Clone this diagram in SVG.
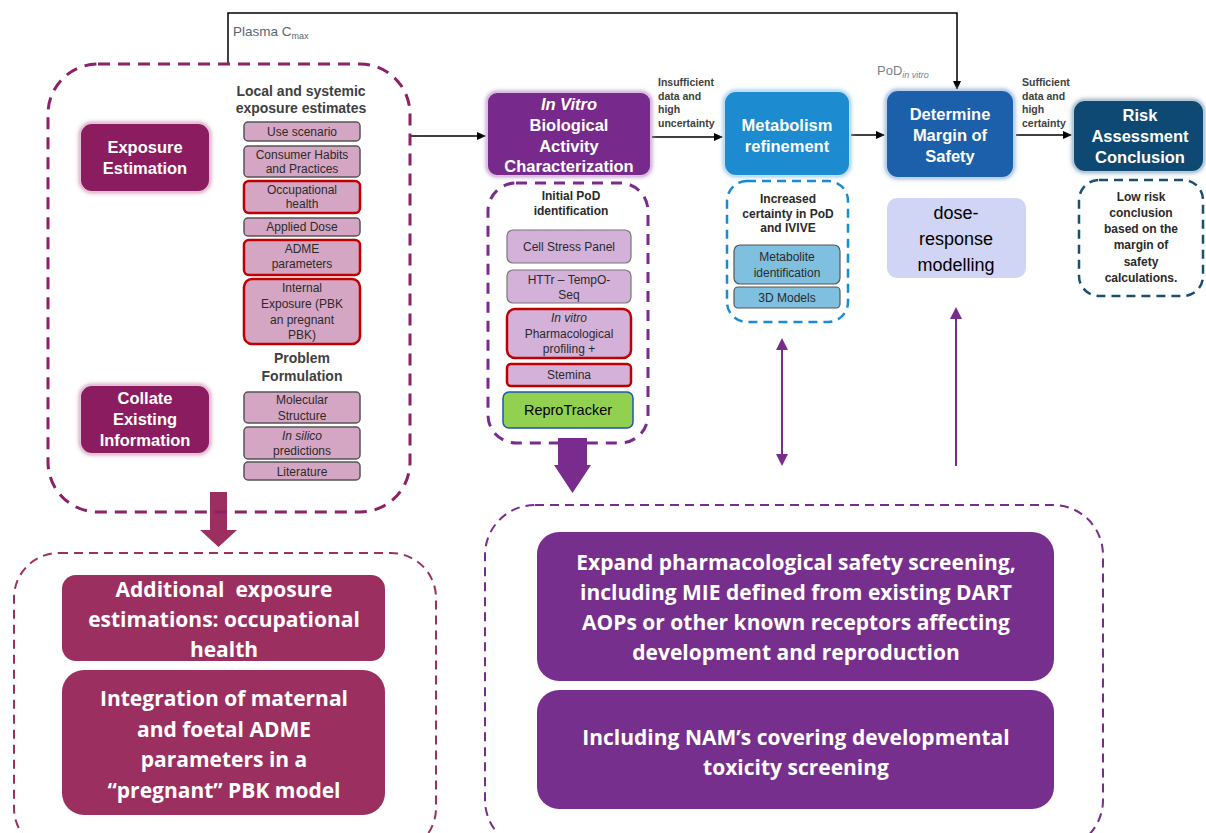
<svg xmlns="http://www.w3.org/2000/svg" width="1206" height="833" viewBox="0 0 1206 833">
<defs>
<filter id="glow" x="-20%" y="-20%" width="140%" height="140%">
<feGaussianBlur in="SourceGraphic" stdDeviation="2.5" result="b"/>
<feMerge><feMergeNode in="b"/><feMergeNode in="SourceGraphic"/></feMerge>
</filter>
<marker id="ah" markerWidth="10" markerHeight="10" refX="8" refY="5" orient="auto" markerUnits="userSpaceOnUse">
<path d="M0,1 L9,5 L0,9 Z" fill="#000"/>
</marker>
<marker id="ahp" markerWidth="14" markerHeight="14" refX="10" refY="7" orient="auto-start-reverse" markerUnits="userSpaceOnUse">
<path d="M0,1 L12,7 L0,13 Z" fill="#7a2c8e"/>
</marker>
</defs>
<style>
text{font-family:"Liberation Sans",Arial,sans-serif}
.big{font-size:16.5px;font-weight:bold;fill:#fff;text-anchor:middle}
.hdr{font-size:14px;font-weight:bold;fill:#404040;text-anchor:middle}
.sm{font-size:12px;fill:#2a2a2a;text-anchor:middle}
.lbl{font-size:10.5px;font-weight:bold;fill:#404040}
.pk{fill:#d5a6c4;stroke:#555;stroke-width:1.5}
.pkr{fill:#d5a6c4;stroke:#c00000;stroke-width:2.5}
.lv{fill:#d4b1d9;stroke:#777;stroke-width:1.2}
.lvr{fill:#d4b1d9;stroke:#c00000;stroke-width:2.5}
.bl{fill:#7fbfe0;stroke:#555;stroke-width:1.2}
.cal{font-family:"Open Sans","Liberation Sans",sans-serif;font-weight:bold;fill:#fff;text-anchor:middle;font-size:21px}
.conn{fill:none;stroke:#000;stroke-width:1.5}
.gl{filter:url(#glow)}
</style>

<g id="connectors">
<polyline class="conn" points="228,63 228,13 957,13 957,89" marker-end="url(#ah)"/>
<line class="conn" x1="411" y1="136" x2="485" y2="136" marker-end="url(#ah)"/>
<line class="conn" x1="651" y1="137" x2="722" y2="137" marker-end="url(#ah)"/>
<line class="conn" x1="851" y1="135" x2="884" y2="135" marker-end="url(#ah)"/>
<line class="conn" x1="1016" y1="135" x2="1071" y2="135" marker-end="url(#ah)"/>
<line x1="782" y1="340" x2="782" y2="464" stroke="#7a2c8e" stroke-width="2" marker-start="url(#ahp)" marker-end="url(#ahp)"/>
<line x1="956" y1="466" x2="956" y2="309" stroke="#7a2c8e" stroke-width="2" marker-end="url(#ahp)"/>
<path d="M210,492 H227 V530 H237 L218.5,547 L200,530 H210 Z" fill="#9b3060"/>
<path d="M558,438 H587 V465 H591 L572.5,493 L554,465 H558 Z" fill="#7a2c8e"/>
<text x="233" y="36" font-size="13.5" fill="#5a6470">Plasma C<tspan font-size="9" dy="3">max</tspan></text>
<text x="877" y="75" font-size="13" fill="#7a7f86">PoD<tspan font-size="9" font-style="italic" dy="3">in vitro</tspan></text>
<text class="lbl" x="658" y="86">Insufficient</text>
<text class="lbl" x="658" y="99.5">data and</text>
<text class="lbl" x="658" y="113">high</text>
<text class="lbl" x="658" y="126.5">uncertainty</text>
<text class="lbl" x="1022" y="86">Sufficient</text>
<text class="lbl" x="1022" y="99.5">data and</text>
<text class="lbl" x="1022" y="113">high</text>
<text class="lbl" x="1022" y="126.5">certainty</text>
</g>

<g id="exposure-group">
<rect x="48" y="64" width="362" height="448" rx="50" fill="none" stroke="#8b2166" stroke-width="3" stroke-dasharray="12 8"/>
<rect class="gl" x="80" y="123" width="130" height="69" rx="12" fill="#8b1a5e" stroke="#e6c3d7" stroke-width="2"/>
<text class="big" x="145" y="153">Exposure</text>
<text class="big" x="145" y="174">Estimation</text>
<rect class="gl" x="80" y="385" width="130" height="69" rx="12" fill="#8b1a5e" stroke="#e6c3d7" stroke-width="2"/>
<text class="big" x="145" y="404">Collate</text>
<text class="big" x="145" y="425">Existing</text>
<text class="big" x="145" y="446">Information</text>
<text class="hdr" x="301" y="96">Local and systemic</text>
<text class="hdr" x="301" y="113">exposure estimates</text>
<rect class="pk" x="244" y="122" width="116" height="19" rx="4"/>
<text class="sm" x="302" y="136">Use scenario</text>
<rect class="pk" x="244" y="146" width="116" height="31" rx="4"/>
<text class="sm" x="302" y="159">Consumer Habits</text>
<text class="sm" x="302" y="173">and Practices</text>
<rect class="pkr" x="244" y="181" width="116" height="32" rx="5"/>
<text class="sm" x="302" y="194">Occupational</text>
<text class="sm" x="302" y="208">health</text>
<rect class="pk" x="244" y="218" width="116" height="18" rx="4"/>
<text class="sm" x="302" y="231">Applied Dose</text>
<rect class="pkr" x="244" y="240" width="116" height="35" rx="5"/>
<text class="sm" x="302" y="253">ADME</text>
<text class="sm" x="302" y="268">parameters</text>
<rect class="pkr" x="244" y="279" width="116" height="65" rx="8"/>
<text class="sm" x="302" y="292">Internal</text>
<text class="sm" x="302" y="308">Exposure (PBK</text>
<text class="sm" x="302" y="324">an pregnant</text>
<text class="sm" x="302" y="339">PBK)</text>
<text class="hdr" x="302" y="363">Problem</text>
<text class="hdr" x="302" y="381">Formulation</text>
<rect class="pk" x="244" y="392" width="116" height="31" rx="4"/>
<text class="sm" x="302" y="404">Molecular</text>
<text class="sm" x="302" y="420">Structure</text>
<rect class="pk" x="244" y="427" width="116" height="32" rx="4"/>
<text class="sm" x="302" y="440" font-style="italic">In silico</text>
<text class="sm" x="302" y="455">predictions</text>
<rect class="pk" x="244" y="462" width="116" height="18" rx="4"/>
<text class="sm" x="302" y="476">Literature</text>
</g>

<g id="invitro-group">
<rect class="gl" x="487" y="92" width="164" height="84" rx="10" fill="#772a8c" stroke="#d9bfe0" stroke-width="2"/>
<text class="big" x="569" y="110" font-style="italic">In Vitro</text>
<text class="big" x="569" y="131">Biological</text>
<text class="big" x="569" y="152">Activity</text>
<text class="big" x="569" y="172">Characterization</text>
<rect x="488" y="183" width="160" height="260" rx="28" fill="none" stroke="#7a2c8e" stroke-width="3" stroke-dasharray="11 8"/>
<text class="sm" x="571" y="200" font-weight="bold" fill="#595959" font-size="11">Initial PoD</text>
<text class="sm" x="571" y="215" font-weight="bold" fill="#595959" font-size="11">identification</text>
<rect class="lv" x="507" y="230" width="124" height="33" rx="6"/>
<text class="sm" x="569" y="251">Cell Stress Panel</text>
<rect class="lv" x="507" y="270" width="124" height="33" rx="6"/>
<text class="sm" x="569" y="284">HTTr – TempO-</text>
<text class="sm" x="569" y="299">Seq</text>
<rect class="lvr" x="507" y="309" width="124" height="49" rx="8"/>
<text class="sm" x="569" y="322" font-style="italic">In vitro</text>
<text class="sm" x="569" y="338">Pharmacological</text>
<text class="sm" x="569" y="353">profiling +</text>
<rect class="lvr" x="507" y="364" width="124" height="22" rx="4"/>
<text class="sm" x="569" y="379">Stemina</text>
<rect x="503" y="392" width="130" height="36" rx="6" fill="#92d050" stroke="#1f56b0" stroke-width="1.5"/>
<text x="568" y="415" font-family="Open Sans,Liberation Sans,sans-serif" font-size="14.5" fill="#000" text-anchor="middle">ReproTracker</text>
</g>

<g id="metabolism-group">
<rect class="gl" x="724" y="91" width="126" height="85" rx="12" fill="#1a8bd0" stroke="#bfe0f3" stroke-width="2"/>
<text class="big" x="787" y="131">Metabolism</text>
<text class="big" x="787" y="152">refinement</text>
<rect x="727" y="181" width="121" height="141" rx="20" fill="none" stroke="#1a8bd0" stroke-width="2.5" stroke-dasharray="9 6"/>
<text class="sm" x="788" y="203" font-weight="bold" fill="#595959" font-size="11">Increased</text>
<text class="sm" x="788" y="218" font-weight="bold" fill="#595959" font-size="11">certainty in PoD</text>
<text class="sm" x="788" y="232" font-weight="bold" fill="#595959" font-size="11">and IVIVE</text>
<rect class="bl" x="734" y="245" width="106" height="39" rx="6"/>
<text class="sm" x="787" y="261">Metabolite</text>
<text class="sm" x="787" y="277">identification</text>
<rect class="bl" x="734" y="287" width="106" height="21" rx="4"/>
<text class="sm" x="787" y="302">3D Models</text>
</g>

<g id="margin-group">
<rect class="gl" x="886" y="90" width="128" height="88" rx="12" fill="#1d5fab" stroke="#bcd2ec" stroke-width="2"/>
<text class="big" x="950" y="120">Determine</text>
<text class="big" x="950" y="141">Margin of</text>
<text class="big" x="950" y="162">Safety</text>
<rect x="887" y="198" width="139" height="80" rx="10" fill="#d0d4f5"/>
<text x="956" y="219" font-family="Open Sans,Liberation Sans,sans-serif" font-size="18" fill="#000" text-anchor="middle">dose-</text>
<text x="956" y="245" font-family="Open Sans,Liberation Sans,sans-serif" font-size="18" fill="#000" text-anchor="middle">response</text>
<text x="956" y="271" font-family="Open Sans,Liberation Sans,sans-serif" font-size="18" fill="#000" text-anchor="middle">modelling</text>
</g>

<g id="risk-group">
<rect class="gl" x="1073" y="100" width="131" height="72" rx="12" fill="#0c4a73" stroke="#b8cbd9" stroke-width="2"/>
<text class="big" x="1140" y="121">Risk</text>
<text class="big" x="1140" y="142">Assessment</text>
<text class="big" x="1140" y="163">Conclusion</text>
<rect x="1079" y="180" width="124" height="116" rx="20" fill="none" stroke="#1b4f72" stroke-width="2.5" stroke-dasharray="9 6"/>
<text class="sm" x="1141" y="201" font-weight="bold" fill="#595959" font-size="11.5">Low risk</text>
<text class="sm" x="1141" y="217" font-weight="bold" fill="#595959" font-size="11.5">conclusion</text>
<text class="sm" x="1141" y="233" font-weight="bold" fill="#595959" font-size="11.5">based on the</text>
<text class="sm" x="1141" y="249" font-weight="bold" fill="#595959" font-size="11.5">margin of</text>
<text class="sm" x="1141" y="266" font-weight="bold" fill="#595959" font-size="11.5">safety</text>
<text class="sm" x="1141" y="282" font-weight="bold" fill="#595959" font-size="11.5">calculations.</text>
</g>

<g id="exposure-additions">
<rect x="14" y="553" width="422" height="300" rx="45" fill="none" stroke="#9b3060" stroke-width="2" stroke-dasharray="9 6"/>
<rect x="62" y="575" width="323" height="86" rx="14" fill="#9b3060"/>
<text class="cal" x="224" y="597" style="white-space:pre">Additional  exposure</text>
<text class="cal" x="224" y="627">estimations: occupational</text>
<text class="cal" x="224" y="657">health</text>
<rect x="62" y="670" width="323" height="145" rx="22" fill="#9b3060"/>
<text class="cal" x="224" y="706">Integration of maternal</text>
<text class="cal" x="224" y="737">and foetal ADME</text>
<text class="cal" x="224" y="767">parameters in a</text>
<text class="cal" x="224" y="798">“pregnant” PBK model</text>
</g>

<g id="invitro-additions">
<rect x="485" y="505" width="618" height="345" rx="50" fill="none" stroke="#7a2c8e" stroke-width="2" stroke-dasharray="9 6"/>
<rect x="537" y="532" width="517" height="149" rx="22" fill="#772f8e"/>
<text class="cal" x="796" y="570">Expand pharmacological safety screening,</text>
<text class="cal" x="796" y="600">including MIE defined from existing DART</text>
<text class="cal" x="796" y="630">AOPs or other known receptors affecting</text>
<text class="cal" x="796" y="660">development and reproduction</text>
<rect x="537" y="690" width="517" height="119" rx="22" fill="#772f8e"/>
<text class="cal" x="796" y="745">Including NAM’s covering developmental</text>
<text class="cal" x="796" y="775">toxicity screening</text>
</g>
</svg>
